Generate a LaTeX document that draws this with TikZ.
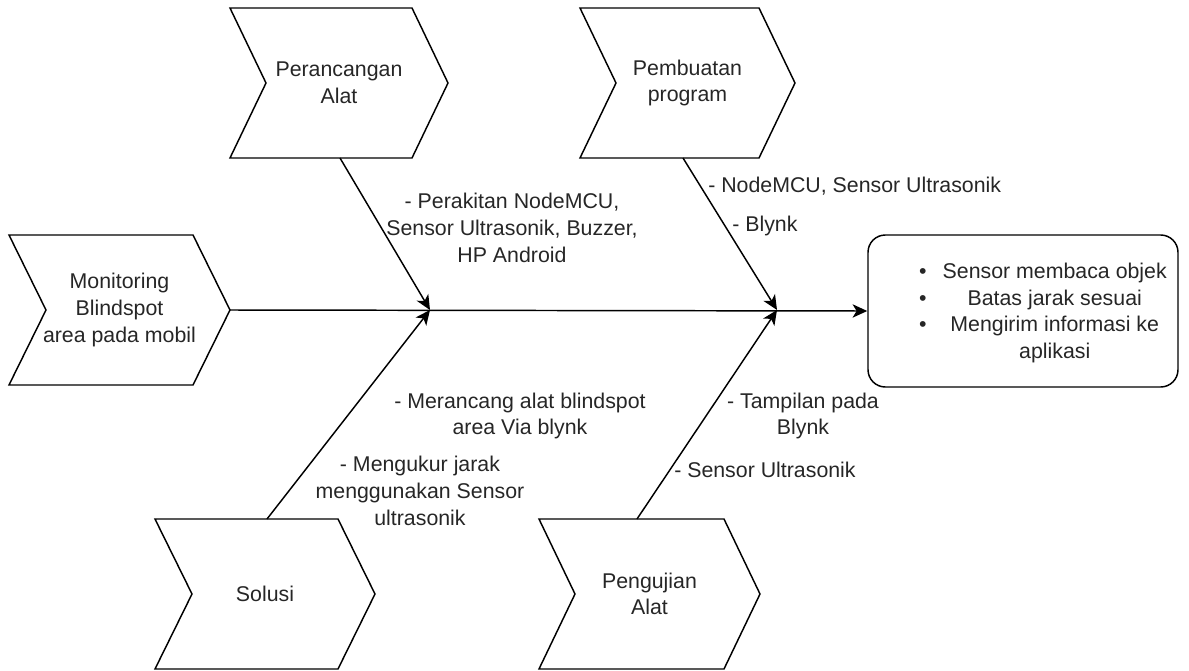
\documentclass[tikz,border=0pt]{standalone}
\usepackage{fontspec}
\setmainfont{Liberation Sans}
\usetikzlibrary{arrows.meta}
\tikzset{
  shapeline/.style={draw=black, line width=1.1pt, line join=miter},
  lbl/.style={font=\fontsize{16}{20}\selectfont, align=center, inner sep=0pt, text=black!85},
  note/.style={font=\fontsize{16}{20}\selectfont, align=center, inner sep=0pt, text=black!85},
  conn/.style={draw=black, line width=1.1pt, -{Stealth[length=11pt, width=10pt, inset=3pt]}},
  outbox/.style={draw=black, line width=1.1pt, rounded corners=13pt, minimum width=232.5pt, minimum height=114pt, inner sep=0pt}
}
\newcommand\chevshape[6]{%
  \draw[shapeline] (#2,#3) -- ++(#4-#5,0) -- ++(#5,75) -- ++(-#5,75) -- ++(-#4+#5,0) -- ++(#5,-75) -- cycle;
  \node[lbl] (#1) at ({#2+#4/2},{#3+75}) {#6};
}
\begin{document}
\begin{tikzpicture}[x=0.75pt,y=-0.75pt]
\useasboundingbox (0,0) rectangle (1189,671);
% chevrons
\chevshape{mon}{9}{235}{221}{37}{Monitoring\\Blindspot\\area pada mobil}
\chevshape{per}{230}{8}{218}{36}{Perancangan\\Alat}
\chevshape{pem}{580}{8}{215}{36}{Pembuatan\\program}
\chevshape{sol}{155}{519}{220}{37}{Solusi}
\chevshape{pen}{539}{519}{221}{36}{Pengujian\\Alat}
% anchor points
\coordinate (monR) at (230,310);
\coordinate (perB) at (340,158);
\coordinate (pemB) at (683,158);
\coordinate (solT) at (267,519);
\coordinate (penT) at (637,519);
\coordinate (j1) at (430,310);
\coordinate (j2) at (777,310);
% output box
\node[outbox] (out) at (1023,311) {};
\node[note, anchor=center] (outtxt) at (1043,313) {%
  \begin{tabular}{@{}c@{\hspace{12pt}}c@{}}
  \textbullet & Sensor membaca objek\\
  \textbullet & Batas jarak sesuai\\
  \textbullet & Mengirim informasi ke\\
   & aplikasi
  \end{tabular}};
% connectors
\draw[conn] (monR) -- (out.west);
\draw[conn] (perB) -- (j1);
\draw[conn] (solT) -- (j1);
\draw[conn] (pemB) -- (j2);
\draw[conn] (penT) -- (j2);
% labels
\node[note] (l1) at (512,228) {- Perakitan NodeMCU,\\Sensor Ultrasonik, Buzzer,\\HP Android};
\node[note, anchor=west] (l2) at (708,186) {- NodeMCU, Sensor Ultrasonik};
\node[note, anchor=west] (l3) at (732,226) {- Blynk};
\node[note] (l4) at (520,416) {- Merancang alat blindspot\\area Via blynk};
\node[note] (l5) at (420,491) {- Mengukur jarak\\menggunakan Sensor\\ultrasonik};
\node[note] (l6) at (803,416) {- Tampilan pada\\Blynk};
\node[note, anchor=west] (l7) at (674,470) {- Sensor Ultrasonik};
\end{tikzpicture}
\end{document}
